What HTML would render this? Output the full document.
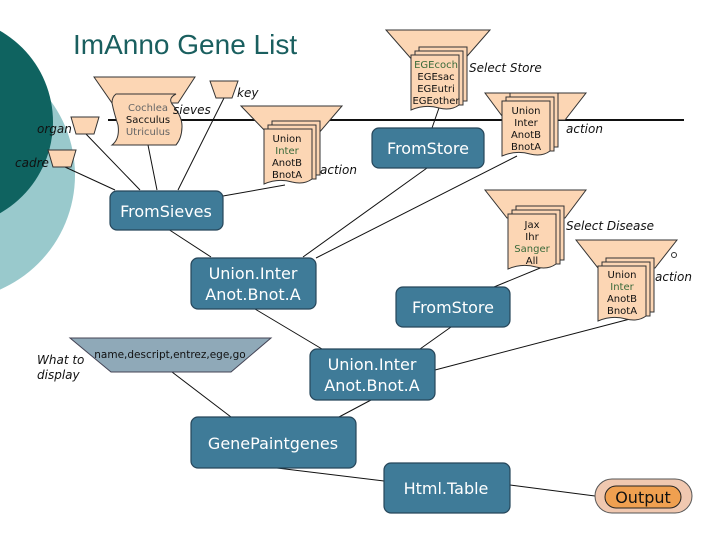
<!DOCTYPE html>
<html><head><meta charset="utf-8"><style>
html,body{margin:0;padding:0;background:#fff}
svg{display:block}
text{font-family:"DejaVu Sans","Liberation Sans",sans-serif}
.it{font-style:italic;font-size:12px;fill:#111}
.bx{fill:#3f7b98;stroke:#26465a;stroke-width:1.2}
.bt{fill:#fff;font-size:16px}
.pe{fill:#fcd6b4;stroke:#333;stroke-width:1}
.dt{font-size:10px;fill:#111;text-anchor:middle}
.g{fill:#3a6a3a}
.gr{fill:#666}
.ln{stroke:#111;stroke-width:1;fill:none}
</style></head><body>
<svg width="720" height="540" viewBox="0 0 720 540" xmlns="http://www.w3.org/2000/svg">
<defs>
<g id="doc">
<path class="pe" d="M8,-8 h48 v54 h-48z"/>
<path class="pe" d="M4,-4 h48 v54 h-48z"/>
<path class="pe" d="M0,0 h48 v50 q-8,6 -20,3 q-14,-4 -28,2z"/>
</g>
</defs>
<circle cx="-50" cy="175" r="125" fill="#99c9cc"/>
<circle cx="-52" cy="122" r="105" fill="#0f6360"/>
<text x="73" y="54" font-size="28" fill="#1a5f5f" style="font-family:'Liberation Sans',sans-serif">ImAnno Gene List</text>
<line x1="108" y1="120" x2="684" y2="120" stroke="#111" stroke-width="2"/>

<!-- connectors -->
<path class="ln" d="M85,133 L140,190 M65,167 L115,190 M148,145 L157,190 M224,98 L178,190 M285,185 L223,196"/>
<path class="ln" d="M168,229 L211,257 M427,168 L303,257 M517,156 L316,258 M440,105 L432,128"/>
<path class="ln" d="M545,266 L494,287 M255,309 L322,349 M451,327 L420,349 M435,370 L630,319 M172,372 L231,417 M371,400 L339,417 M277,468 L384,481 M510,485 L595,496"/>

<!-- organ / cadre / key -->
<polygon class="pe" points="71,117 99,117 94,134 76,134"/>
<text class="it" x="37" y="133">organ</text>
<polygon class="pe" points="48,150 76,150 71,167 53,167"/>
<text class="it" x="15" y="167">cadre</text>
<polygon class="pe" points="210,81 238,81 232,98 216,98"/>
<text class="it" x="237" y="97">key</text>

<!-- sieves -->
<polygon class="pe" points="94,77 195,77 178,103 112,103"/>
<path class="pe" d="M116,94 h60 q-8,4 -4,10 q10,12 10,22 q0,12 -6,19 h-64 q8,-6 6,-20 q-4,-12 -6,-22 q0,-6 4,-9z"/>
<text class="dt gr" x="148" y="111">Cochlea</text>
<text class="dt" x="148" y="123">Sacculus</text>
<text class="dt gr" x="148" y="135">Utriculus</text>
<text class="it" x="173" y="114">sieves</text>

<!-- action1 -->
<polygon class="pe" points="241,106 342,106 318,134 268,134"/>
<use href="#doc" x="264" y="129"/>
<text class="dt" x="287" y="142">Union</text>
<text class="dt g" x="287" y="154">Inter</text>
<text class="dt" x="287" y="166">AnotB</text>
<text class="dt" x="287" y="178">BnotA</text>
<text class="it" x="320" y="174">action</text>

<!-- select store -->
<polygon class="pe" points="386,30 490,30 462,62 414,62"/>
<use href="#doc" x="411" y="55"/>
<text class="dt g" x="436" y="68">EGEcoch</text>
<text class="dt" x="436" y="80">EGEsac</text>
<text class="dt" x="436" y="92">EGEutri</text>
<text class="dt" x="436" y="104">EGEother</text>
<text class="it" x="469" y="72">Select Store</text>

<!-- action2 -->
<polygon class="pe" points="485,93 586,93 565,120 505,120"/>
<use href="#doc" x="502" y="101"/>
<text class="dt" x="526" y="114">Union</text>
<text class="dt" x="526" y="126">Inter</text>
<text class="dt" x="526" y="138">AnotB</text>
<text class="dt" x="526" y="150">BnotA</text>
<text class="it" x="566" y="133">action</text>

<!-- select disease -->
<polygon class="pe" points="485,190 586,190 565,218 507,218"/>
<use href="#doc" x="508" y="214"/>
<text class="dt" x="532" y="228">Jax</text>
<text class="dt" x="532" y="240">Ihr</text>
<text class="dt g" x="532" y="252">Sanger</text>
<text class="dt" x="532" y="264">All</text>
<text class="it" x="566" y="230">Select Disease</text>

<!-- action3 -->
<polygon class="pe" points="576,240 677,240 655,268 598,268"/>
<circle cx="674" cy="255" r="2.5" fill="#fff" stroke="#333"/>
<use href="#doc" x="598" y="266"/>
<text class="dt" x="622" y="278">Union</text>
<text class="dt g" x="622" y="290">Inter</text>
<text class="dt" x="622" y="302">AnotB</text>
<text class="dt" x="622" y="314">BnotA</text>
<text class="it" x="655" y="281">action</text>

<!-- what to display -->
<polygon points="70,338 271,338 231,372 111,372" fill="#8fa9b8" stroke="#445"/>
<text x="170" y="358" font-size="10.5" text-anchor="middle" fill="#111">name,descript,entrez,ege,go</text>
<text class="it" x="37" y="364">What to</text>
<text class="it" x="37" y="379">display</text>

<!-- boxes -->
<rect class="bx" x="110" y="191" width="113" height="39" rx="7"/>
<text class="bt" x="166" y="217" text-anchor="middle">FromSieves</text>
<rect class="bx" x="372" y="128" width="112" height="40" rx="7"/>
<text class="bt" x="428" y="154" text-anchor="middle">FromStore</text>
<rect class="bx" x="191" y="258" width="125" height="51" rx="7"/>
<text class="bt" x="253" y="279" text-anchor="middle">Union.Inter</text>
<text class="bt" x="253" y="300" text-anchor="middle">Anot.Bnot.A</text>
<rect class="bx" x="396" y="287" width="114" height="40" rx="7"/>
<text class="bt" x="453" y="313" text-anchor="middle">FromStore</text>
<rect class="bx" x="310" y="349" width="125" height="51" rx="7"/>
<text class="bt" x="372" y="370" text-anchor="middle">Union.Inter</text>
<text class="bt" x="372" y="391" text-anchor="middle">Anot.Bnot.A</text>
<rect class="bx" x="191" y="417" width="165" height="51" rx="7"/>
<text class="bt" x="273" y="449" text-anchor="middle">GenePaintgenes</text>
<rect class="bx" x="384" y="463" width="126" height="50" rx="7"/>
<text class="bt" x="446" y="494" text-anchor="middle">Html.Table</text>

<!-- output -->
<rect x="595" y="479" width="97" height="34" rx="17" fill="#f0c8b0" stroke="#555"/>
<rect x="605" y="486" width="76" height="22" rx="11" fill="#f0a050" stroke="#222"/>
<text x="643" y="503" font-size="16" text-anchor="middle" fill="#111">Output</text>
</svg>
</body></html>
